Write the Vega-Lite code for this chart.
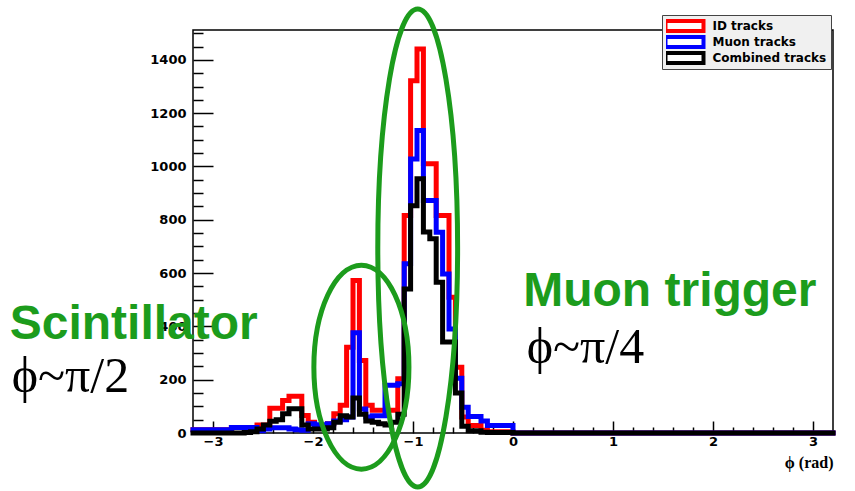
{
  "$schema": "https://vega.github.io/schema/vega-lite/v6.json",
  "width": 640,
  "height": 403,
  "autosize": {"type": "none"},
  "padding": {"left": 193, "top": 30, "right": 22, "bottom": 58},
  "background": "white",
  "config": {
    "view": {"stroke": "black", "strokeWidth": 1.5},
    "font": "Liberation Sans"
  },
  "resolve": {"axis": {"x": "independent", "y": "independent"}},
  "datasets": {
    "hist": [
      {"phi": -3.2, "id": 12, "mu": 12, "cb": 0},
      {"phi": -3.136, "id": 12, "mu": 12, "cb": 0},
      {"phi": -3.072, "id": 12, "mu": 12, "cb": 0},
      {"phi": -3.008, "id": 12, "mu": 12, "cb": 0},
      {"phi": -2.944, "id": 12, "mu": 12, "cb": 0},
      {"phi": -2.88, "id": 12, "mu": 12, "cb": 0},
      {"phi": -2.816, "id": 21, "mu": 21, "cb": 0},
      {"phi": -2.752, "id": 21, "mu": 21, "cb": 0},
      {"phi": -2.688, "id": 21, "mu": 21, "cb": 2},
      {"phi": -2.624, "id": 21, "mu": 21, "cb": 5},
      {"phi": -2.56, "id": 30, "mu": 8, "cb": 15},
      {"phi": -2.496, "id": 30, "mu": 15, "cb": 30},
      {"phi": -2.432, "id": 93, "mu": 20, "cb": 44},
      {"phi": -2.368, "id": 93, "mu": 20, "cb": 50},
      {"phi": -2.304, "id": 122, "mu": 20, "cb": 72},
      {"phi": -2.24, "id": 138, "mu": 15, "cb": 91},
      {"phi": -2.176, "id": 138, "mu": 12, "cb": 91},
      {"phi": -2.112, "id": 66, "mu": 10, "cb": 30},
      {"phi": -2.048, "id": 40, "mu": 35, "cb": 15},
      {"phi": -1.984, "id": 28, "mu": 31, "cb": 15},
      {"phi": -1.92, "id": 28, "mu": 31, "cb": 15},
      {"phi": -1.856, "id": 35, "mu": 35, "cb": 20},
      {"phi": -1.792, "id": 72, "mu": 45, "cb": 40},
      {"phi": -1.728, "id": 104, "mu": 50, "cb": 65},
      {"phi": -1.664, "id": 322, "mu": 60, "cb": 60},
      {"phi": -1.6, "id": 572, "mu": 376, "cb": 131},
      {"phi": -1.536, "id": 272, "mu": 90, "cb": 70},
      {"phi": -1.472, "id": 104, "mu": 60, "cb": 45},
      {"phi": -1.408, "id": 85, "mu": 65, "cb": 40},
      {"phi": -1.344, "id": 85, "mu": 65, "cb": 35},
      {"phi": -1.28, "id": 85, "mu": 179, "cb": 30},
      {"phi": -1.216, "id": 85, "mu": 179, "cb": 40},
      {"phi": -1.152, "id": 204, "mu": 185, "cb": 70},
      {"phi": -1.088, "id": 816, "mu": 635, "cb": 540},
      {"phi": -1.024, "id": 1322, "mu": 1028, "cb": 853},
      {"phi": -0.96, "id": 1441, "mu": 1135, "cb": 954},
      {"phi": -0.896, "id": 1010, "mu": 872, "cb": 754},
      {"phi": -0.832, "id": 1010, "mu": 872, "cb": 729},
      {"phi": -0.768, "id": 816, "mu": 753, "cb": 566},
      {"phi": -0.704, "id": 816, "mu": 597, "cb": 341},
      {"phi": -0.64, "id": 509, "mu": 390, "cb": 341},
      {"phi": -0.576, "id": 247, "mu": 205, "cb": 150},
      {"phi": -0.512, "id": 60, "mu": 97, "cb": 25},
      {"phi": -0.448, "id": 28, "mu": 62, "cb": 8},
      {"phi": -0.384, "id": 28, "mu": 62, "cb": 8},
      {"phi": -0.32, "id": 10, "mu": 45, "cb": 3},
      {"phi": -0.256, "id": 5, "mu": 28, "cb": 2},
      {"phi": -0.192, "id": 5, "mu": 28, "cb": 2},
      {"phi": -0.128, "id": 5, "mu": 28, "cb": 2},
      {"phi": -0.064, "id": 5, "mu": 28, "cb": 2},
      {"phi": 0, "id": 0, "mu": 0, "cb": 0},
      {"phi": 3.2, "id": 0, "mu": 0, "cb": 0}
    ],
    "ell": [
      {"k": "big", "x": -0.953, "y": 694},
      {"k": "small", "x": -1.516, "y": 247}
    ],
    "txt": [
      {"t": "Scintillator", "x": -5.033, "y": 354, "g": 1},
      {"t": "Muon trigger", "x": 0.102, "y": 477, "g": 1},
      {"t": "ϕ~π/2", "x": -5.013, "y": 155, "g": 0},
      {"t": "ϕ~π/4", "x": 0.137, "y": 264, "g": 0}
    ]
  },
  "layer": [
    {
      "data": {"name": "hist"},
      "mark": {"type": "line", "interpolate": "step-after", "strokeWidth": 5, "strokeJoin": "miter", "strokeCap": "square"},
      "encoding": {
        "x": {
          "field": "phi", "type": "quantitative",
          "scale": {"domain": [-3.2, 3.2], "nice": false, "zero": false},
          "axis": {
            "orient": "bottom",
            "values": [-3, -2, -1, 0, 1, 2, 3],
            "format": "d",
            "tickSize": -12,
            "tickColor": "black", "tickWidth": 1.5,
            "labelFont": "DejaVu Sans", "labelFontWeight": "bold", "labelFontSize": 13, "labelColor": "black",
            "labelPadding": 14, "labelFlush": false, "labelOverlap": false,
            "domain": false, "grid": false,
            "title": "ϕ (rad)", "titleFont": "Liberation Serif", "titleFontWeight": "bold", "titleFontSize": 16,
            "titleColor": "black", "titleAnchor": "end", "titleAlign": "right", "titlePadding": 6
          }
        },
        "y": {
          "field": "id", "type": "quantitative",
          "scale": {"domain": [0, 1512], "nice": false},
          "axis": {
            "orient": "left",
            "values": [0, 200, 400, 600, 800, 1000, 1200, 1400],
            "format": "d",
            "tickSize": -20,
            "tickColor": "black", "tickWidth": 1.5,
            "labelFont": "DejaVu Sans", "labelFontWeight": "bold", "labelFontSize": 13, "labelColor": "black",
            "labelPadding": 27, "labelFlush": false, "labelOverlap": false,
            "domain": false, "grid": false, "title": null
          }
        },
        "color": {
          "datum": "ID tracks", "type": "nominal",
          "scale": {"domain": ["ID tracks", "Muon tracks", "Combined tracks"], "range": ["#ff0000", "#0000ff", "#000000"]},
          "legend": {
            "orient": "none", "legendX": 469, "legendY": -15, "direction": "vertical",
            "title": null, "fillColor": "#f0f0f0", "strokeColor": "#444444", "padding": 4,
            "symbolType": "M-9.5,-2.5L9.5,-2.5L9.5,2.5L-9.5,2.5Z", "symbolSize": 16,
            "symbolStrokeWidth": 4, "symbolFillColor": "white", "symbolOffset": 12.5,
            "clipHeight": 14,
            "labelFont": "DejaVu Sans", "labelFontWeight": "bold", "labelFontSize": 12, "labelColor": "black",
            "labelOffset": 22, "rowPadding": 2,
            "encode": {"symbols": {"update": {"fill": {"value": "white"}}}}
          }
        }
      }
    },
    {
      "data": {"name": "hist"},
      "mark": {"type": "line", "interpolate": "step-after", "strokeWidth": 5, "strokeJoin": "miter", "strokeCap": "square"},
      "encoding": {
        "x": {
          "field": "phi", "type": "quantitative",
          "axis": {
            "orient": "bottom",
            "values": [-2.8, -2.6, -2.4, -2.2, -1.8, -1.6, -1.4, -1.2, -0.8, -0.6, -0.4, -0.2, 0.2, 0.4, 0.6, 0.8, 1.2, 1.4, 1.6, 1.8, 2.2, 2.4, 2.6, 2.8],
            "tickSize": -6, "tickColor": "black", "tickWidth": 1.5,
            "labels": false, "domain": false, "grid": false, "title": null
          }
        },
        "y": {
          "field": "mu", "type": "quantitative",
          "axis": {
            "orient": "left",
            "values": [50, 100, 150, 250, 300, 350, 450, 500, 550, 650, 700, 750, 850, 900, 950, 1050, 1100, 1150, 1250, 1300, 1350, 1450, 1500],
            "tickSize": -10, "tickColor": "black", "tickWidth": 1.5,
            "labels": false, "domain": false, "grid": false, "title": null
          }
        },
        "color": {"datum": "Muon tracks", "type": "nominal"}
      }
    },
    {
      "data": {"name": "hist"},
      "mark": {"type": "line", "interpolate": "step-after", "strokeWidth": 5, "strokeJoin": "miter", "strokeCap": "square"},
      "encoding": {
        "x": {"field": "phi", "type": "quantitative", "axis": null},
        "y": {"field": "cb", "type": "quantitative", "axis": null},
        "color": {"datum": "Combined tracks", "type": "nominal"}
      }
    },
    {
      "data": {"name": "ell"},
      "transform": [{"filter": "datum.k == 'big'"}],
      "mark": {"type": "point", "shape": "M0,-1C0.0922,-1 0.167,-0.5523 0.167,0C0.167,0.5523 0.0922,1 0,1C-0.0922,1 -0.167,0.5523 -0.167,0C-0.167,-0.5523 -0.0922,-1 0,-1Z", "size": 228484, "filled": false, "stroke": "#1c9c1c", "strokeWidth": 5, "opacity": 1},
      "encoding": {
        "x": {"field": "x", "type": "quantitative", "axis": null},
        "y": {"field": "y", "type": "quantitative", "axis": null}
      }
    },
    {
      "data": {"name": "ell"},
      "transform": [{"filter": "datum.k == 'small'"}],
      "mark": {"type": "point", "shape": "M0,-1C0.2574,-1 0.466,-0.5523 0.466,0C0.466,0.5523 0.2574,1 0,1C-0.2574,1 -0.466,0.5523 -0.466,0C-0.466,-0.5523 -0.2574,-1 0,-1Z", "size": 41616, "filled": false, "stroke": "#1c9c1c", "strokeWidth": 5, "opacity": 1},
      "encoding": {
        "x": {"field": "x", "type": "quantitative", "axis": null},
        "y": {"field": "y", "type": "quantitative", "axis": null}
      }
    },
    {
      "data": {"name": "txt"},
      "transform": [{"filter": "datum.g == 1"}],
      "mark": {"type": "text", "align": "left", "baseline": "alphabetic", "font": "Liberation Sans", "fontWeight": "bold", "fontSize": 48, "color": "#1c9c1c"},
      "encoding": {
        "x": {"field": "x", "type": "quantitative", "axis": null},
        "y": {"field": "y", "type": "quantitative", "axis": null},
        "text": {"field": "t"}
      }
    },
    {
      "data": {"name": "txt"},
      "transform": [{"filter": "datum.g == 0"}],
      "mark": {"type": "text", "align": "left", "baseline": "alphabetic", "font": "Liberation Serif", "fontSize": 50, "color": "black"},
      "encoding": {
        "x": {"field": "x", "type": "quantitative", "axis": null},
        "y": {"field": "y", "type": "quantitative", "axis": null},
        "text": {"field": "t"}
      }
    }
  ]
}
